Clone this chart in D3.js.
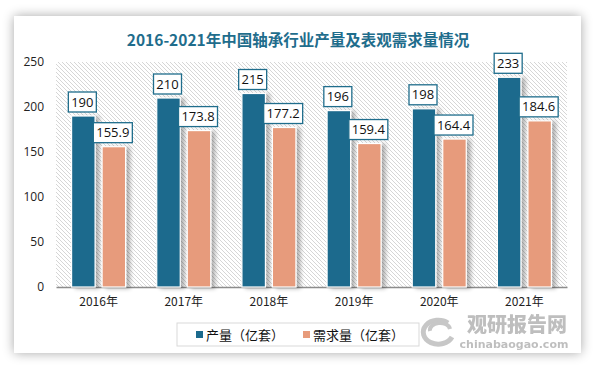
<!DOCTYPE html>
<html><head><meta charset="utf-8">
<script src="https://cdn.jsdelivr.net/npm/d3@7"></script>
<style>
html,body{margin:0;padding:0;background:#fff;}
svg{display:block;}
</style></head>
<body>
<svg id="c" width="596" height="367"></svg>
<script>
const categories = ["2016年","2017年","2018年","2019年","2020年","2021年"];
const production = [190, 210, 215, 196, 198, 233];
const demand = [155.9, 173.8, 177.2, 159.4, 164.4, 184.6];
const demandLabels = ["155.9","173.8","177.2","159.4","164.4","184.6"];
const yTicks = [0, 50, 100, 150, 200, 250];
const seriesNames = ["产量（亿套）", "需求量（亿套）"];
const colors = ["#1b6a8d", "#e79b7b"];
const titleText = "2016-2021年中国轴承行业产量及表观需求量情况";

(function(){
const svg = d3.select("#c");
const defs = svg.append("defs");
const f = defs.append("filter").attr("id","cardShadow").attr("x","-10%").attr("y","-10%").attr("width","120%").attr("height","120%");
f.append("feGaussianBlur").attr("in","SourceAlpha").attr("stdDeviation",6);
f.append("feOffset").attr("dx",0).attr("dy",0).attr("result","b");
f.append("feComponentTransfer").append("feFuncA").attr("type","linear").attr("slope",0.35);
const fm = f.append("feMerge"); fm.append("feMergeNode"); fm.append("feMergeNode").attr("in","SourceGraphic");

const bs = defs.append("filter").attr("id","barShadow").attr("x","-30%").attr("y","-10%").attr("width","180%").attr("height","130%");
bs.append("feGaussianBlur").attr("in","SourceAlpha").attr("stdDeviation",2);
bs.append("feOffset").attr("dx",4).attr("dy",1).attr("result","o");
bs.append("feComponentTransfer").append("feFuncA").attr("type","linear").attr("slope",0.3);
const bm = bs.append("feMerge"); bm.append("feMergeNode"); bm.append("feMergeNode").attr("in","SourceGraphic");

const pat = defs.append("pattern").attr("id","hatch").attr("patternUnits","userSpaceOnUse").attr("width",4).attr("height",4);
pat.append("rect").attr("width",4).attr("height",4).attr("fill","#fff");
pat.append("path").attr("d","M-1,-1 L5,5 M-1,3 L1,5 M3,-1 L5,1").attr("stroke","#d6d6d6").attr("stroke-width",1);

// card
svg.append("rect").attr("x",14).attr("y",16).attr("width",567).attr("height",337).attr("fill","#fff").attr("filter","url(#cardShadow)");

// title
svg.append("text").attr("x",298).attr("y",46).attr("text-anchor","middle")
  .attr("font-family","'Noto Sans CJK SC', sans-serif").attr("font-weight","bold").attr("font-size",15.5)
  .attr("fill","#1f6d8c").text(titleText);

const pL=56, pR=567, pT=62, pB=287;
const x = d3.scaleBand().domain(categories).range([pL,pR]).paddingInner(0).paddingOuter(0);
const y = d3.scaleLinear().domain([0,250]).range([pB,pT]);

svg.append("rect").attr("x",pL).attr("y",pT).attr("width",pR-pL).attr("height",pB-pT).attr("fill","url(#hatch)");

// y axis
const ya = svg.append("g").attr("transform",`translate(${pL},0)`).call(d3.axisLeft(y).tickValues(yTicks).tickSize(0).tickPadding(12));
ya.select(".domain").remove();
ya.selectAll("text").attr("font-family","'Open Sans', 'Noto Sans', sans-serif").attr("font-size",12).attr("fill","#222");

// x axis
const xa = svg.append("g").attr("transform",`translate(0,${pB})`).call(d3.axisBottom(x).tickSize(0).tickPadding(10));
xa.select(".domain").attr("stroke","#8c8c8c").attr("stroke-width",1.5);
xa.selectAll("text").attr("font-family","'Noto Sans CJK SC', sans-serif").attr("font-size",12).attr("fill","#222");

const bw = 23.5, gap = 7;
const series = [production, demand];
const labels = [production.map(String), demandLabels];
series.forEach((vals, si) => {
  const g = svg.append("g");
  g.selectAll("rect").data(vals).join("rect")
    .attr("x",(d,i)=> x(categories[i]) + x.bandwidth()/2 + (si===0 ? -gap/2 - bw : gap/2))
    .attr("y",d=>y(d)).attr("width",bw).attr("height",d=>pB-y(d))
    .attr("fill",colors[si]).attr("stroke","#fff").attr("stroke-width",1.2)
    .attr("filter","url(#barShadow)");
});
// data labels
series.forEach((vals, si) => {
  vals.forEach((d,i)=>{
    const cx = x(categories[i]) + x.bandwidth()/2 + (si===0 ? -gap/2 - bw/2 : gap/2 + bw/2) - 1;
    const txt = labels[si][i];
    const w = txt.length > 3 ? 39 : 28;
    const h = 20;
    const by = y(d) - 4 - h;
    svg.append("rect").attr("x",cx - w/2).attr("y",by).attr("width",w).attr("height",h)
      .attr("fill","#fff").attr("stroke","#1f6d8c").attr("stroke-width",1.3);
    svg.append("text").attr("x",cx).attr("y",by+h/2+4.5).attr("text-anchor","middle")
      .attr("font-family","'Open Sans', 'Noto Sans', sans-serif").attr("font-size",13).attr("fill","#111").text(txt);
  });
});

// legend
svg.append("rect").attr("x",177).attr("y",323).attr("width",242).attr("height",23).attr("fill","#fff").attr("stroke","#d9d9d9").attr("stroke-width",1);
const legX = [196, 303];
seriesNames.forEach((n,i)=>{
  svg.append("rect").attr("x",legX[i]).attr("y",331).attr("width",7).attr("height",7).attr("fill",colors[i]);
  svg.append("text").attr("x",legX[i]+10).attr("y",339.5).attr("font-family","'Noto Sans CJK SC', sans-serif")
    .attr("font-size",13).attr("fill","#111").text(n);
});

// watermark
const wm = svg.append("g").attr("opacity",0.55);
wm.append("path").attr("d","M448,323 A15,12 0 1,0 452,337").attr("fill","none").attr("stroke","#9a9a9a").attr("stroke-width",5);
wm.append("path").attr("d","M430,331 A10,7 0 0,1 450,329").attr("fill","none").attr("stroke","#9a9a9a").attr("stroke-width",4);
wm.append("text").attr("x",517).attr("y",332).attr("text-anchor","middle").attr("font-family","'Noto Sans CJK SC', sans-serif")
  .attr("font-weight","900").attr("font-size",20).attr("fill","#8a8a8a").text("观研报告网");
wm.append("text").attr("x",514).attr("y",348).attr("text-anchor","middle").attr("font-family","'DejaVu Sans', sans-serif")
  .attr("font-weight","bold").attr("font-size",11).attr("fill","#8a8a8a").text("chinabaogao.com");
})();
</script>
</body></html>
